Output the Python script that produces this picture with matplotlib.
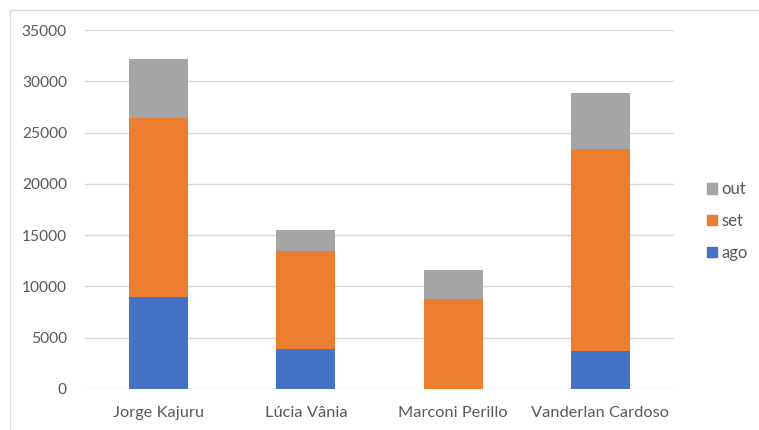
import matplotlib
matplotlib.use("Agg")
import matplotlib.pyplot as plt
from matplotlib.patches import Rectangle, Patch
import numpy as np

categories = ["Jorge Kajuru", "Lúcia Vânia", "Marconi Perillo", "Vanderlan Cardoso"]
ago = [9000, 3900, 0, 3700]
set_ = [17400, 9600, 8800, 19700]
out = [5800, 2000, 2800, 5500]
series_names = ["ago", "set", "out"]
colors = ["#4472C4", "#ED7D31", "#A5A5A5"]
yticks = [0, 5000, 10000, 15000, 20000, 25000, 30000, 35000]

plt.rcParams['font.family'] = ['Lato', 'DejaVu Sans']
W, H = 759, 430
fig = plt.figure(figsize=(W / 100, H / 100), dpi=100)
fig.patches.append(Rectangle((10 / W, -0.1), 1.1, (H - 10) / H + 0.1, transform=fig.transFigure,
                             fill=False, edgecolor="#D9D9D9", linewidth=1))
ax = fig.add_axes([85 / W, (H - 389) / H, (674 - 85) / W, (389 - 30) / H])

x = np.arange(len(categories))
bottom = np.zeros(len(categories))
for name, vals, c in zip(series_names, [ago, set_, out], colors):
    ax.bar(x, vals, width=0.4, bottom=bottom, color=c, label=name, zorder=3)
    bottom += np.array(vals)

ax.set_xlim(-0.5, len(categories) - 0.5)
ax.set_ylim(0, 35000)
ax.set_yticks(yticks)
ax.set_yticklabels([str(v) for v in yticks])
ax.set_xticks(x)
ax.set_xticklabels(categories)
ax.grid(axis="y", color="#D9D9D9", linewidth=1, zorder=0)
for s in ax.spines.values():
    s.set_visible(False)
ax.tick_params(axis="both", length=0, colors="#595959")
ax.tick_params(axis="y", pad=13, labelsize=11.2)
ax.tick_params(axis="x", pad=12, labelsize=11.8)

handles = [Patch(color=c) for c in colors][::-1]
labels = series_names[::-1]
leg = fig.legend(handles, labels, loc="center left", bbox_to_anchor=(692 / W, (H - 221) / H),
                 frameon=False, handlelength=0.6, handleheight=0.6, handletextpad=0.25,
                 labelspacing=0.95, fontsize=12)
for t in leg.get_texts():
    t.set_color("#595959")

fig.savefig("out.png", dpi=100)
